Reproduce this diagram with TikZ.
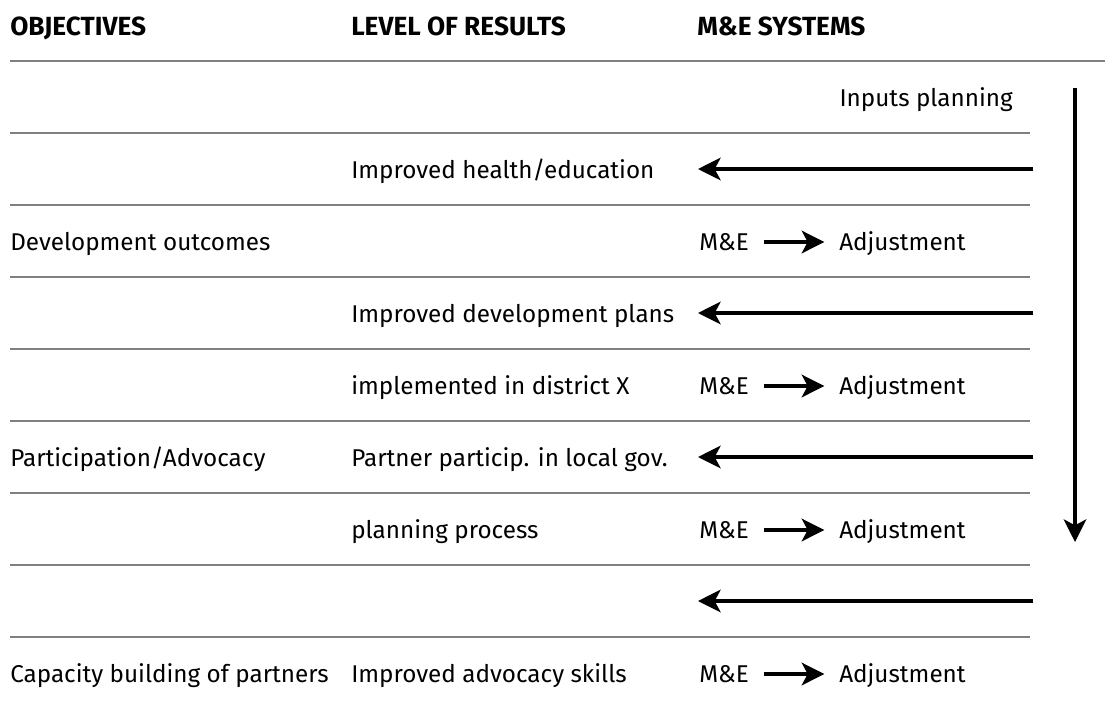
\documentclass[tikz,border=0pt]{standalone}
\usepackage{fontspec}
\setmainfont{Fira Sans}
\usetikzlibrary{arrows.meta}

\begin{document}
\begin{tikzpicture}[x=0.75pt, y=-0.75pt,
  every node/.style={font=\fontsize{18.2}{22}\selectfont, inner sep=0pt},
  head/.style={anchor=base west, font=\fontsize{19.7}{23}\selectfont\bfseries},
  cell/.style={anchor=west, text height=16pt, text depth=3pt},
  rule/.style={draw=black!50, line width=1.1pt},
  flow/.style={-{Stealth[length=17pt, width=17pt, inset=4.5pt]}, line width=2.3pt}]

\useasboundingbox (0,0) rectangle (1105,704);

% Column heads
\node (objhead) [head] at (10,35) {OBJECTIVES};
\node (levhead) [head] at (351,35) {LEVEL OF RESULTS};
\node (mehead) [head] at (697,35) {M\&E SYSTEMS};

% Row rules
\draw[rule] (10,61) -- (1105,61);
\draw[rule] (10,133) -- (1030,133);
\draw[rule] (10,205) -- (1030,205);
\draw[rule] (10,277) -- (1030,277);
\draw[rule] (10,349) -- (1030,349);
\draw[rule] (10,421) -- (1030,421);
\draw[rule] (10,493) -- (1030,493);
\draw[rule] (10,565) -- (1030,565);
\draw[rule] (10,637) -- (1030,637);

% Objectives
\node (devout) [cell] at (10,242) {Development outcomes};
\node (partadv) [cell] at (10,458) {Participation/Advocacy};
\node (capbuild) [cell] at (10,674) {Capacity building of partners};

% Level of results
\node (health) [cell] at (351,170) {Improved health/education};
\node (devplans) [cell] at (351,314) {Improved development plans};
\node (district) [cell] at (351,386) {implemented in district X};
\node (partgov) [cell] at (351,458) {Partner particip. in local gov.};
\node (planproc) [cell] at (351,530) {planning process};
\node (advskills) [cell] at (351,674) {Improved advocacy skills};

% M&E systems
\node (inputs) [cell, anchor=east] at (1013,98) {Inputs planning};
\node (me1) [cell] at (699,242) {M\&E};
\node (adj1) [cell] at (839,242) {Adjustment};
\node (me2) [cell] at (699,386) {M\&E};
\node (adj2) [cell] at (839,386) {Adjustment};
\node (me3) [cell] at (699,530) {M\&E};
\node (adj3) [cell] at (839,530) {Adjustment};
\node (me4) [cell] at (699,674) {M\&E};
\node (adj4) [cell] at (839,674) {Adjustment};

% Feedback arrow ends
\coordinate (fbr1) at (1033,169);
\coordinate (fbl1) at (698,169);
\coordinate (fbr2) at (1033,313);
\coordinate (fbl2) at (698,313);
\coordinate (fbr3) at (1033,457);
\coordinate (fbl3) at (698,457);
\coordinate (fbr4) at (1033,601);
\coordinate (fbl4) at (698,601);
\coordinate (flowtop) at (1075,88);
\coordinate (flowbot) at (1075,542);

% Arrows
\draw[flow, shorten <=11pt, shorten >=11pt] (me1.east) -- (adj1.west);
\draw[flow, shorten <=11pt, shorten >=11pt] (me2.east) -- (adj2.west);
\draw[flow, shorten <=11pt, shorten >=11pt] (me3.east) -- (adj3.west);
\draw[flow, shorten <=11pt, shorten >=11pt] (me4.east) -- (adj4.west);
\draw[flow] (fbr1) -- (fbl1);
\draw[flow] (fbr2) -- (fbl2);
\draw[flow] (fbr3) -- (fbl3);
\draw[flow] (fbr4) -- (fbl4);
\draw[flow] (flowtop) -- (flowbot);

\end{tikzpicture}
\end{document}
